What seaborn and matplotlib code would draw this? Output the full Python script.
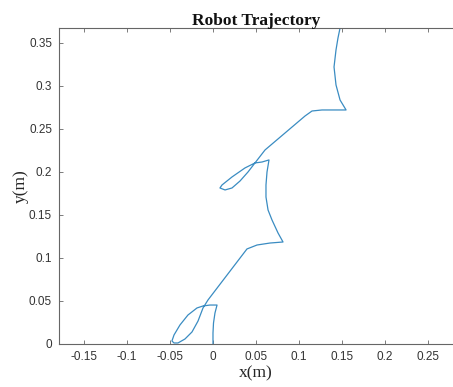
import numpy as np
import pandas as pd
import matplotlib
matplotlib.use("Agg")
import matplotlib.pyplot as plt
import seaborn as sns

# Trajectory points (metres)
x_m = [0.000, 0.000, 0.0006, 0.0023, 0.0047, -0.0035, -0.0116, -0.0186, -0.0291,
       -0.0384, -0.0453, -0.0477, -0.0453, -0.0407, -0.0326, -0.0244, -0.0174,
       -0.0116, -0.0058, 0.0395, 0.0512, 0.0663, 0.0814, 0.0756, 0.0686, 0.0640,
       0.0616, 0.0616, 0.0628, 0.0651, 0.0570, 0.0488, 0.0372, 0.0221, 0.0105,
       0.0081, 0.0140, 0.0221, 0.0314, 0.0407, 0.0488, 0.0605, 0.1070, 0.1151,
       0.1267, 0.1419, 0.1547, 0.1477, 0.1430, 0.1407, 0.1430, 0.1453, 0.1477,
       0.1419]
y_m = [0.000, 0.0128, 0.0244, 0.0360, 0.0453, 0.0453, 0.0442, 0.0419, 0.0337,
       0.0221, 0.0105, 0.0035, 0.0012, 0.0012, 0.0058, 0.0140, 0.0267, 0.0419,
       0.0512, 0.1105, 0.1151, 0.1174, 0.1186, 0.1291, 0.1442, 0.1558, 0.1709,
       0.1849, 0.2000, 0.2140, 0.2116, 0.2105, 0.2047, 0.1942, 0.1849, 0.1814,
       0.1791, 0.1814, 0.1895, 0.2000, 0.2105, 0.2256, 0.2651, 0.2709, 0.2721,
       0.2721, 0.2721, 0.2837, 0.3012, 0.3221, 0.3419, 0.3558, 0.3674, 0.3686]

x_ticks = [-0.15, -0.1, -0.05, 0, 0.05, 0.1, 0.15, 0.2, 0.25]
x_tick_labels = ["-0.15", "-0.1", "-0.05", "0", "0.05", "0.1", "0.15", "0.2", "0.25"]
y_ticks = [0, 0.05, 0.1, 0.15, 0.2, 0.25, 0.3, 0.35]
y_tick_labels = ["0", "0.05", "0.1", "0.15", "0.2", "0.25", "0.3", "0.35"]

df = pd.DataFrame({"x": x_m, "y": y_m, "order": range(len(x_m))})

sns.set_theme(style="white")
plt.rcParams["font.family"] = ["Liberation Sans", "DejaVu Sans"]

fig = plt.figure(figsize=(4.53, 3.87), dpi=100)
ax = fig.add_axes([59 / 453, 1 - 344 / 387, 394 / 453, 316 / 387])

sns.lineplot(data=df, x="x", y="y", sort=False, estimator=None, ax=ax,
             color="#3a8cc2", linewidth=0.9)

ax.set_xlim(-0.179, 0.279)
ax.set_ylim(0, 0.3674)
ax.set_xticks(x_ticks)
ax.set_xticklabels(x_tick_labels)
ax.set_yticks(y_ticks)
ax.set_yticklabels(y_tick_labels)

for side in ["left", "bottom", "top"]:
    ax.spines[side].set_visible(True)
    ax.spines[side].set_color("#666666")
    ax.spines[side].set_linewidth(0.8)
ax.spines["right"].set_visible(False)

ax.tick_params(axis="both", which="major", direction="in", length=3, width=0.6,
               color="#666666", labelsize=8.5, labelcolor="#333333",
               top=True, bottom=True, left=True, right=False, pad=5)

ax.set_title("Robot Trajectory", family="Liberation Serif", fontweight="bold",
             fontsize=12.5, pad=2, color="#111111")
ax.set_xlabel("x(m)", family="Liberation Serif", fontsize=12.5, labelpad=2,
              color="#262626")
ax.set_ylabel("y(m)", family="Liberation Serif", fontsize=12.5, labelpad=0,
              color="#262626")
ax.grid(False)

fig.savefig("out.png", dpi=100)
